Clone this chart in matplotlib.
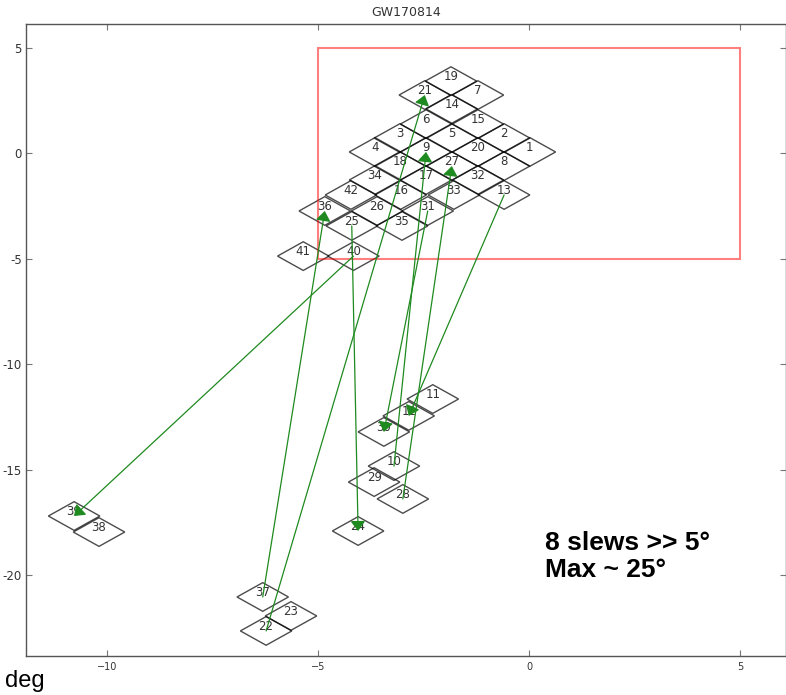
import matplotlib
matplotlib.use("Agg")
import matplotlib.pyplot as plt
from matplotlib.patches import Polygon, Rectangle

# tile ids and centres (deg)
tile_ids = [19, 21, 7, 14, 6, 15, 3, 5, 2, 4, 9, 20, 1, 18, 27, 8, 34, 17, 32,
            42, 16, 33, 13, 36, 26, 31, 25, 35, 41, 40,
            11, 12, 30, 10, 29, 28, 39, 38, 37, 23, 22, 24]
tile_x = [-1.86, -2.48, -1.22, -1.84, -2.45, -1.22, -3.07, -1.84, -0.60, -3.66,
          -2.45, -1.22, 0.01, -3.07, -1.84, -0.60, -3.66, -2.45, -1.22,
          -4.23, -3.05, -1.79, -0.60, -4.85, -3.61, -2.41, -4.21, -3.02,
          -5.36, -4.17,
          -2.29, -2.86, -3.45, -3.21, -3.68, -3.00, -10.79, -10.20, -6.32,
          -5.65, -6.24, -4.06]
tile_y = [3.43, 2.77, 2.77, 2.11, 1.39, 1.39, 0.73, 0.73, 0.73, 0.07,
          0.07, 0.07, 0.07, -0.60, -0.60, -0.60, -1.26, -1.26, -1.26,
          -1.97, -1.97, -1.97, -1.97, -2.73, -2.73, -2.73, -3.44, -3.44,
          -4.87, -4.87,
          -11.65, -12.45, -13.21, -14.83, -15.59, -16.39, -17.20, -17.96,
          -21.04, -21.94, -22.65, -17.91]

# slews between tiles (from -> to)
slew_from = [40, 37, 22, 25, 13, 31, 10, 28]
slew_to = [39, 36, 21, 24, 12, 30, 9, 27]

# search box
box_lo, box_hi = -5, 5

pos = {t: (x, y) for t, x, y in zip(tile_ids, tile_x, tile_y)}
half_w, half_h = 0.61, 0.68

fig = plt.figure(figsize=(7.86, 6.95), dpi=100)
ax = fig.add_axes([26 / 786, 39 / 695, 760 / 786, 632 / 695])

# tiles
for t in tile_ids:
    x, y = pos[t]
    diamond = Polygon([(x - half_w, y), (x, y + half_h), (x + half_w, y), (x, y - half_h)],
                      closed=True, fill=False, ec='k', alpha=0.7, lw=1)
    ax.add_patch(diamond)
    ax.annotate(str(t), (x, y), xytext=(0, 3), textcoords='offset points',
                ha='center', va='center', fontsize=8.5, color='#333333')

# search region
ax.add_patch(Rectangle((box_lo, box_lo), box_hi - box_lo, box_hi - box_lo,
                       fill=False, ec='red', alpha=0.5, lw=1.5))

# slews
for a, b in zip(slew_from, slew_to):
    ax.annotate('', xy=pos[b], xytext=pos[a],
                arrowprops=dict(arrowstyle='-|>,head_length=0.6,head_width=0.45',
                                color='#1f8a1f', lw=0.9, shrinkA=0, shrinkB=0))

ax.set_xlim(-11.93, 6.08)
ax.set_ylim(-23.84, 6.14)
ax.set_xticks([-10, -5, 0, 5])
ax.set_yticks([5, 0, -5, -10, -15, -20])
ax.set_yticklabels(['5', '0', '-5', '-10', '-15', '-20'])
ax.tick_params(direction='in', top=True, right=True, length=4, color='#777777')
ax.tick_params(axis='y', labelsize=8.5, labelcolor='#333333', pad=3)
ax.tick_params(axis='x', labelsize=7, labelcolor='#333333', pad=4)
for s in ax.spines.values():
    s.set_color('#555555')
    s.set_linewidth(1)

ax.set_title('GW170814', fontsize=9, color='#333333')

ax.text(0.683, 0.198, '8 slews >> 5°\nMax ~ 25°', transform=ax.transAxes,
        va='top', ha='left', fontsize=19, fontweight='bold',
        family='Liberation Sans', linespacing=1.15)
fig.text(5 / 786, 8 / 695, 'deg', fontsize=17, family='Liberation Sans', va='baseline')

fig.savefig('out.png', dpi=100)
